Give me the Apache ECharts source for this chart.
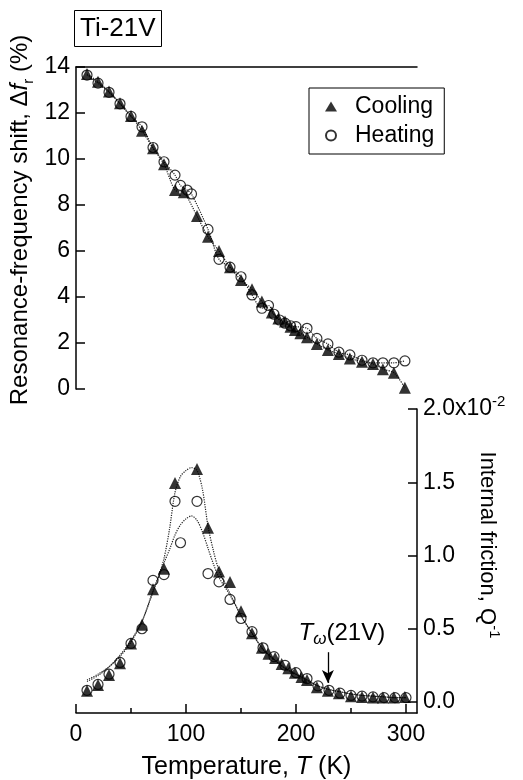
<!DOCTYPE html>
<html>
<head>
<meta charset="utf-8">
<script src="https://cdn.jsdelivr.net/npm/echarts@6/dist/echarts.min.js"></script>
<style>html,body{margin:0;background:#fff}#c{width:523px;height:780px}</style>
</head>
<body>
<div id="c"></div>
<script>
// Ti-21V: deslocamento da frequência de ressonância e atrito interno vs. temperatura
const FONTE = "'Liberation Sans', Arial, sans-serif";

// painel de cima: Δf_r (%)
const tDfResf = [10, 20, 30, 40, 50, 60, 70, 80, 90, 98, 110, 120, 130, 140, 150, 160, 169, 178, 184, 190, 195, 199, 204, 210, 219, 229, 239, 249, 260, 270, 279, 289, 299];
const dfResf = [13.7, 13.36, 12.93, 12.42, 11.87, 11.23, 10.47, 9.77, 8.65, 8.55, 7.52, 6.62, 6.0, 5.29, 4.74, 4.34, 3.8, 3.33, 3.07, 2.93, 2.71, 2.57, 2.42, 2.25, 1.96, 1.7, 1.52, 1.33, 1.19, 1.09, 0.86, 0.71, 0.05];
const tDfAquec = [10, 20, 30, 40, 50, 60, 70, 80, 90, 95, 101, 105, 120, 130, 140, 150, 160, 169, 175, 180, 185, 190, 195, 200, 210, 219, 229, 239, 249, 260, 270, 279, 289, 299];
const dfAquec = [13.65, 13.3, 12.9, 12.4, 11.85, 11.4, 10.5, 9.88, 9.3, 8.85, 8.65, 8.48, 6.94, 5.64, 5.3, 4.88, 4.09, 3.51, 3.63, 3.25, 3.0, 2.86, 2.75, 2.71, 2.64, 2.2, 1.96, 1.6, 1.48, 1.25, 1.14, 1.14, 1.14, 1.22];

// painel de baixo: Q^-1 (x10^-2)
const tQResf = [10, 20, 30, 40, 50, 60, 70, 80, 90, 110, 120, 130, 140, 150, 160, 169, 175, 181, 187, 193, 199, 205, 210, 219, 229, 239, 250, 260, 270, 279, 289, 299];
const qResf = [0.077, 0.116, 0.185, 0.265, 0.40, 0.527, 0.77, 0.91, 1.495, 1.59, 1.19, 0.89, 0.82, 0.62, 0.47, 0.37, 0.33, 0.30, 0.26, 0.23, 0.20, 0.17, 0.15, 0.10, 0.077, 0.06, 0.04, 0.035, 0.03, 0.03, 0.03, 0.035];
const tQAquec = [10, 20, 30, 40, 50, 60, 70, 80, 90, 95, 110, 120, 130, 140, 150, 160, 170, 180, 190, 200, 210, 220, 230, 240, 250, 260, 270, 280, 290, 300];
const qAquec = [0.08, 0.12, 0.19, 0.27, 0.40, 0.50, 0.83, 0.87, 1.37, 1.087, 1.37, 0.877, 0.82, 0.70, 0.57, 0.48, 0.37, 0.31, 0.25, 0.20, 0.16, 0.11, 0.08, 0.06, 0.045, 0.04, 0.035, 0.03, 0.03, 0.03];

// curvas de ajuste (pontilhadas)
const tAjuste = [10, 20, 30, 40, 50, 60, 70, 75, 80, 85, 90, 95, 100, 105, 110, 115, 120, 125, 130, 140, 150, 160, 170, 180, 190, 200, 210, 220, 230, 240, 250, 260, 270, 280, 290, 300];
const ajusteResf = [0.15, 0.19, 0.24, 0.32, 0.42, 0.55, 0.76, 0.86, 0.98, 1.18, 1.43, 1.54, 1.58, 1.60, 1.58, 1.45, 1.2, 1.03, 0.9, 0.74, 0.59, 0.47, 0.36, 0.29, 0.23, 0.19, 0.15, 0.11, 0.085, 0.07, 0.055, 0.045, 0.04, 0.035, 0.03, 0.03];
const ajusteAquec = [0.14, 0.18, 0.24, 0.31, 0.41, 0.55, 0.75, 0.85, 0.95, 1.04, 1.14, 1.21, 1.25, 1.27, 1.24, 1.16, 1.05, 0.94, 0.85, 0.73, 0.59, 0.47, 0.36, 0.29, 0.23, 0.19, 0.15, 0.11, 0.085, 0.07, 0.055, 0.045, 0.04, 0.035, 0.03, 0.03];

// ticks
const ticksX = [0, 100, 200, 300];
const ticksXMenor = [50, 150, 250];
const ticksQ = [0, 0.5, 1.0, 1.5, 2.0];
// seta T_omega
const tOmega = 229;
const setaQ = [0.34, 0.13];

const par = (xs, ys) => xs.map((x, i) => [x, ys[i]]);
const PRETO = "#000";
const traco = { color: PRETO, width: 1.5 };
const linhaEixo = { show: true, onZero: false, lineStyle: traco };
const rotulo = { color: PRETO, fontSize: 23, fontFamily: FONTE };
const estilo = (tam, extra = {}) => ({ fontSize: tam, fontFamily: FONTE, color: PRETO, ...extra });
const rich = {
  a: estilo(23, { lineHeight: 30 }),
  t: estilo(25, { lineHeight: 32 }),
  i: estilo(25, { lineHeight: 32, fontStyle: "italic" }),
  y: estilo(24, { lineHeight: 32 }),
  yi: estilo(24, { lineHeight: 32, fontStyle: "italic" }),
  q: estilo(22, { lineHeight: 30 }),
  sub: estilo(15, { lineHeight: 14, verticalAlign: "bottom" }),
  sup: estilo(15, { lineHeight: 14, verticalAlign: "top" }),
};

const triangulo = { symbol: "triangle", symbolSize: 12, itemStyle: { color: PRETO } };
const circulo = { symbol: "circle", symbolSize: 10, itemStyle: { color: "rgba(0,0,0,0)", borderColor: PRETO, borderWidth: 1.2 } };
const pontilhado = { type: "line", smooth: 0.3, symbol: "none", silent: true, lineStyle: { color: "#222", width: 1.2, type: "dotted" }, z: 1 };

const g = echarts.init(document.getElementById("c"));
g.setOption({
  animation: false,
  textStyle: { fontFamily: FONTE },
  title: {
    text: "Ti-21V", left: 74, top: 10, padding: [6, 6, 5, 6],
    borderColor: PRETO, borderWidth: 1,
    textStyle: { color: PRETO, fontSize: 26, fontWeight: "normal", fontFamily: FONTE },
  },
  legend: {
    data: [{ name: "Cooling", icon: "triangle" }, { name: "Heating", icon: "circle" }],
    orient: "vertical", left: 309, top: 88,
    borderColor: PRETO, borderWidth: 1, padding: [7, 10, 7, 16],
    itemWidth: 12, itemHeight: 10, itemGap: 6,
    textStyle: { color: PRETO, fontSize: 23, fontFamily: FONTE, padding: [0, 0, 0, 13] },
  },
  grid: [
    { left: 76, right: 106, top: 67, height: 322, outerBoundsMode: "none" },
    { left: 76, right: 106, top: 409, bottom: 67, outerBoundsMode: "none" },
  ],
  xAxis: [
    { gridIndex: 0, type: "value", min: 0, max: 310, position: "top",
      axisLine: linhaEixo, axisTick: { show: false }, axisLabel: { show: false }, splitLine: { show: false } },
    { gridIndex: 1, type: "value", min: 0, max: 310, position: "bottom",
      axisLine: linhaEixo,
      axisTick: { inside: true, length: 9, customValues: ticksX, lineStyle: traco },
      axisLabel: { ...rotulo, margin: 10, customValues: ticksX },
      splitLine: { show: false },
      name: "{t|Temperature, }{i|T}{t| (K)}", nameLocation: "middle", nameGap: 38, nameMoveOverlap: false,
      nameTextStyle: { rich } },
    { gridIndex: 1, type: "value", min: 0, max: 310, position: "bottom",
      axisLine: { show: false, onZero: false },
      axisTick: { inside: true, length: 5, customValues: ticksXMenor, lineStyle: traco },
      axisLabel: { show: false }, splitLine: { show: false } },
  ],
  yAxis: [
    { gridIndex: 0, type: "value", min: 0, max: 14, interval: 2, position: "left",
      axisLine: linhaEixo,
      axisTick: { inside: true, length: 9, lineStyle: traco },
      axisLabel: { ...rotulo, margin: 6 },
      splitLine: { show: false },
      name: "{y|Resonance-frequency shift, Δ}{yi|f}{sub|r}{y| (%)}",
      nameLocation: "middle", nameRotate: 90, nameGap: 40, nameMoveOverlap: false,
      nameTextStyle: { rich, padding: [0, 0, 0, 16] } },
    { gridIndex: 1, type: "value", min: -0.075, max: 2.0, position: "right",
      axisLine: linhaEixo,
      axisTick: { inside: true, length: 9, customValues: ticksQ, lineStyle: traco },
      axisLabel: {
        ...rotulo, margin: 6, customValues: ticksQ,
        formatter: (v) => (v === 2 ? "{a|2.0x10}{sup|-2}" : v.toFixed(1)),
        rich,
      },
      splitLine: { show: false },
      name: "{q|Internal friction, Q}{sup|-1}",
      nameLocation: "middle", nameRotate: -90, nameGap: 55, nameMoveOverlap: false,
      nameTextStyle: { rich, padding: [0, 32, 0, 0] } },
  ],
  series: [
    { ...pontilhado, xAxisIndex: 0, yAxisIndex: 0, data: par(tDfAquec, dfAquec) },
    { ...pontilhado, xAxisIndex: 0, yAxisIndex: 0, data: par(tDfResf, dfResf) },
    { ...pontilhado, xAxisIndex: 1, yAxisIndex: 1, data: par(tAjuste, ajusteAquec) },
    { ...pontilhado, xAxisIndex: 1, yAxisIndex: 1, data: par(tAjuste, ajusteResf) },
    { name: "Cooling", type: "scatter", xAxisIndex: 0, yAxisIndex: 0, ...triangulo, data: par(tDfResf, dfResf), z: 3 },
    { name: "Heating", type: "scatter", xAxisIndex: 0, yAxisIndex: 0, ...circulo, data: par(tDfAquec, dfAquec), z: 4 },
    { name: "Cooling", type: "scatter", xAxisIndex: 1, yAxisIndex: 1, ...triangulo, data: par(tQResf, qResf), z: 3,
      markLine: {
        silent: true, symbol: ["none", "arrow"], symbolSize: [9, 13],
        lineStyle: { color: PRETO, type: "solid", width: 1.3 },
        label: {
          show: true, position: "start", distance: 4, padding: [0, 0, 0, 28],
          formatter: "{i|T}{w|ω}{t|(21V)}",
          rich: { ...rich, t: estilo(24, { lineHeight: 30 }), i: estilo(24, { lineHeight: 30, fontStyle: "italic" }),
                  w: estilo(17, { lineHeight: 14, fontStyle: "italic", verticalAlign: "bottom" }) },
        },
        data: [[{ coord: [tOmega, setaQ[0]] }, { coord: [tOmega, setaQ[1]] }]],
      } },
    { name: "Heating", type: "scatter", xAxisIndex: 1, yAxisIndex: 1, ...circulo, data: par(tQAquec, qAquec), z: 4 },
  ],
});
</script>
</body>
</html>
